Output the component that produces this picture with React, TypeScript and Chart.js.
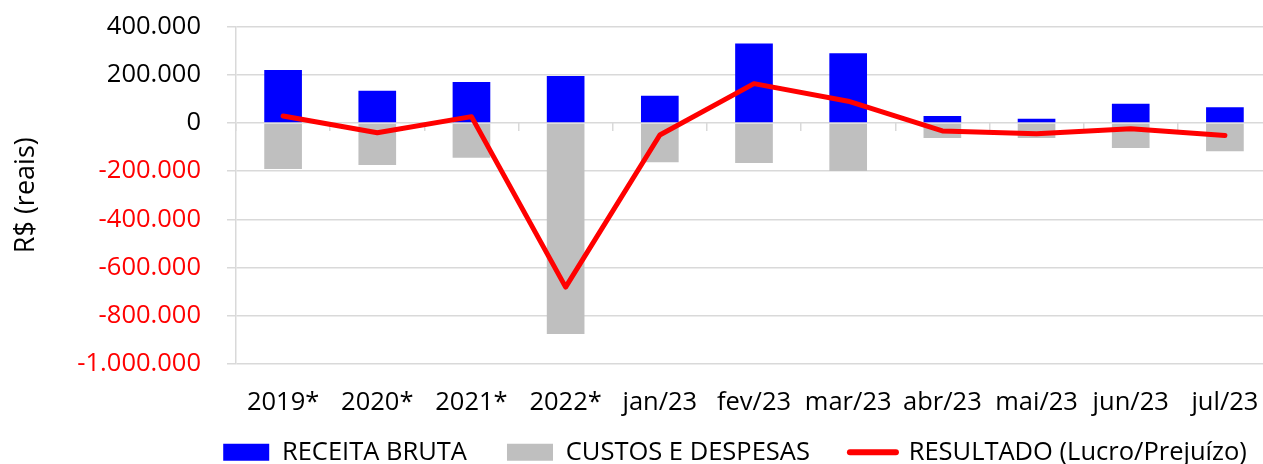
import React, { useEffect, useRef } from "react";
import { Chart, registerables } from "chart.js";

Chart.register(...registerables);

const categories = ["2019*", "2020*", "2021*", "2022*", "jan/23", "fev/23", "mar/23", "abr/23", "mai/23", "jun/23", "jul/23"];
const receitaBruta = [220000, 133000, 170000, 195000, 113000, 329000, 289000, 29000, 17000, 80000, 65000];
const custosDespesas = [-191000, -174000, -144000, -876000, -163000, -166000, -199000, -62000, -62000, -104000, -117000];
const resultado = [29000, -41000, 26000, -681000, -50000, 163000, 90000, -33000, -45000, -24000, -52000];
const yMin = -1000000;
const yMax = 400000;
const yStep = 200000;

const seriesLabels = ["RECEITA BRUTA", "CUSTOS E DESPESAS", "RESULTADO (Lucro/Prejuízo)"];
const yTitle = "R$ (reais)";

const FONT = "'Open Sans', sans-serif";
const GRID = "#d9d9d9";

function fmt(v: number): string {
  if (v === 0) return "0";
  const s = Math.abs(v).toString().replace(/\B(?=(\d{3})+(?!\d))/g, ".");
  return (v < 0 ? "-" : "") + s;
}

export default function App() {
  const ref = useRef<HTMLCanvasElement | null>(null);
  useEffect(() => {
    if (!ref.current) return;
    const chart = new Chart(ref.current, {
      type: "bar",
      data: {
        labels: categories,
        datasets: [
          {
            type: "bar",
            label: seriesLabels[0],
            data: receitaBruta,
            backgroundColor: "#0000ff",
            borderWidth: 0,
            stack: "bars",
            order: 1,
            categoryPercentage: 1,
            barPercentage: 0.4,
          },
          {
            type: "bar",
            label: seriesLabels[1],
            data: custosDespesas,
            backgroundColor: "#bfbfbf",
            borderWidth: 0,
            stack: "bars",
            order: 1,
            categoryPercentage: 1,
            barPercentage: 0.4,
          },
          {
            type: "line",
            label: seriesLabels[2],
            data: resultado,
            borderColor: "#ff0000",
            backgroundColor: "#ff0000",
            borderWidth: 5,
            borderCapStyle: "round",
            borderJoinStyle: "round",
            pointRadius: 0,
            tension: 0,
            stack: "line",
            order: 0,
          } as any,
        ],
      },
      options: {
        animation: false,
        responsive: false,
        layout: { padding: { top: 26.5, left: 0, right: 0, bottom: 0 } },
        plugins: {
          tooltip: { enabled: false },
          title: { display: false },
          legend: {
            position: "bottom",
            align: "center",
            labels: {
              usePointStyle: true,
              pointStyleWidth: 46,
              boxHeight: 17,
              padding: 40,
              color: "#000",
              font: { family: FONT, size: 25.5 },
              generateLabels: (chart: any) =>
                chart.data.datasets.map((ds: any, i: number) => ({
                  text: ds.label,
                  fillStyle: ds.type === "line" ? ds.borderColor : ds.backgroundColor,
                  strokeStyle: ds.type === "line" ? ds.borderColor : ds.backgroundColor,
                  lineWidth: ds.type === "line" ? 6 : 0,
                  lineCap: "round",
                  pointStyle: ds.type === "line" ? "line" : "rect",
                  hidden: false,
                  datasetIndex: i,
                  fontColor: "#000",
                })),
            },
          },
        },
        scales: {
          x: {
            stacked: true,
            offset: true,
            position: { y: yMin } as any,
            grid: { display: false },
            border: { display: false },
            ticks: {
              color: "#000",
              padding: 15,
              maxRotation: 0,
              autoSkip: false,
              font: { family: FONT, size: 25.5 },
            },
          } as any,
          x2: {
            type: "category",
            axis: "x",
            position: { y: 0 } as any,
            offset: true,
            grid: {
              display: true,
              offset: true,
              drawOnChartArea: false,
              drawTicks: true,
              tickLength: 8,
              color: GRID,
              lineWidth: 1.5,
            },
            ticks: { display: false },
            border: { display: false },
          } as any,
          xSpace: {
            type: "category",
            axis: "x",
            position: "bottom",
            grid: { display: false },
            ticks: { display: false },
            border: { display: false },
            afterFit: (s: any) => {
              s.height = 35.5;
            },
          } as any,
          y: {
            stacked: true,
            min: yMin,
            max: yMax,
            ticks: {
              stepSize: yStep,
              padding: 26,
              color: (ctx: any) => (ctx.tick && ctx.tick.value < 0 ? "#ff0000" : "#000000"),
              font: { family: FONT, size: 25.5 },
              callback: (v: any) => fmt(Number(v)),
            },
            grid: { color: GRID, lineWidth: 1.5, tickLength: 9, drawTicks: true },
            border: { display: true, color: GRID, width: 1.5 },
            title: {
              display: true,
              text: yTitle,
              color: "#000",
              font: { family: FONT, size: 27 },
              padding: { top: 10, bottom: 0 },
            },
            afterFit: (s: any) => {
              s.width = 236;
              s.paddingTop = 0;
              s.paddingBottom = 0;
            },
          },
          yR: {
            type: "linear",
            position: "right",
            display: true,
            grid: { display: false },
            ticks: { display: false },
            border: { display: false },
            afterFit: (s: any) => {
              s.width = 198;
              s.paddingTop = 0;
              s.paddingBottom = 0;
            },
          } as any,
        },
      },
    });
    return () => chart.destroy();
  }, []);
  return (
    <div style={{ position: "fixed", left: 0, top: 0 }}>
      <canvas ref={ref} width={1470} height={475} style={{ display: "block" }} />
    </div>
  );
}
